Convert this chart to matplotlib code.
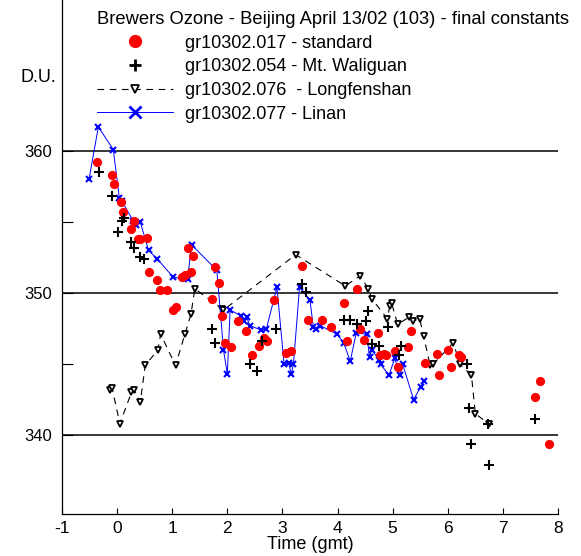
import numpy as np
import matplotlib
matplotlib.use('Agg')
import matplotlib.pyplot as plt

plt.rcParams['font.family'] = ['Liberation Sans', 'DejaVu Sans']
plt.rcParams['font.size'] = 13
plt.rcParams['axes.unicode_minus'] = False

# gr10302.017 - standard
std_t = [-0.37, -0.10, -0.05, 0.07, 0.11, 0.25, 0.31, 0.37, 0.42, 0.54, 0.58, 0.72, 0.77, 0.90,
         1.02, 1.07, 1.18, 1.23, 1.29, 1.34, 1.38, 1.73, 1.78, 1.85, 1.90, 1.95, 2.07, 2.20,
         2.33, 2.45, 2.58, 2.67, 2.72, 2.84, 3.06, 3.16, 3.36, 3.46, 3.71, 3.88, 4.11, 4.17,
         4.36, 4.41, 4.48, 4.73, 4.77, 4.84, 4.88, 5.04, 5.10, 5.27, 5.33, 5.58, 5.80, 5.84,
         6.01, 6.06, 6.21, 6.24, 7.58, 7.67, 7.83]
std_o3 = [359.2, 358.3, 357.7, 356.4, 355.7, 354.5, 355.1, 353.8, 353.8, 353.9, 351.5, 350.9, 350.2, 350.2,
          348.8, 349.0, 351.1, 351.3, 353.2, 351.5, 352.6, 349.6, 351.8, 350.7, 348.4, 346.5, 346.2, 348.0,
          347.3, 345.6, 346.3, 346.8, 346.6, 349.5, 345.8, 345.9, 351.9, 348.1, 348.1, 347.6, 349.3, 346.6,
          350.3, 347.5, 346.7, 347.2, 345.6, 345.7, 345.6, 345.9, 344.8, 346.2, 347.3, 345.1, 345.7, 344.2,
          346.0, 344.8, 345.6, 345.5, 342.7, 343.8, 339.4]

# gr10302.054 - Mt. Waliguan
wal_t = [-0.33, -0.09, 0.02, 0.08, 0.13, 0.26, 0.31, 0.42, 0.48, 1.73, 1.78, 2.41, 2.54, 2.62,
         2.88, 3.35, 3.42, 4.11, 4.22, 4.36, 4.52, 4.56, 4.63, 4.76, 4.91, 5.12, 5.16, 6.34,
         6.39, 6.43, 6.73, 6.75, 7.58]
wal_o3 = [358.5, 356.8, 354.3, 355.1, 355.3, 353.6, 353.2, 352.5, 352.4, 347.5, 346.5, 345.0, 344.5, 346.6,
          347.5, 350.6, 350.1, 348.1, 348.1, 347.8, 348.0, 348.7, 346.4, 346.3, 347.6, 345.6, 346.3, 345.0,
          341.9, 339.4, 340.8, 337.9, 341.1]

# gr10302.076 - Longfenshan
lon_t = [-0.13, -0.09, 0.05, 0.26, 0.31, 0.42, 0.51, 0.74, 0.79, 1.06, 1.23, 1.34, 1.41, 1.90,
         1.93, 3.24, 4.14, 4.41, 4.56, 4.62, 4.90, 4.95, 4.98, 5.09, 5.30, 5.36, 5.49, 5.56,
         5.68, 5.74, 6.10, 6.22, 6.43, 6.50, 6.74]
lon_o3 = [343.2, 343.3, 340.8, 343.0, 343.2, 342.3, 344.9, 346.0, 347.1, 344.9, 347.1, 348.5, 350.3, 348.9,
          348.8, 352.7, 350.5, 351.2, 350.3, 349.6, 348.2, 349.1, 349.3, 347.8, 348.3, 348.0, 348.2, 347.0,
          344.9, 345.0, 346.5, 345.0, 344.2, 341.5, 340.8]

# gr10302.077 - Linan
lin_t = [-0.51, -0.34, -0.07, 0.04, 0.08, 0.29, 0.34, 0.42, 0.57, 0.73, 1.02, 1.28, 1.35, 1.81,
         1.93, 2.00, 2.05, 2.25, 2.30, 2.35, 2.41, 2.61, 2.71, 2.90, 3.03, 3.11, 3.16, 3.20,
         3.31, 3.50, 3.56, 3.61, 3.69, 3.99, 4.11, 4.23, 4.34, 4.53, 4.58, 4.62, 4.75, 4.78,
         4.93, 5.04, 5.13, 5.18, 5.38, 5.51, 5.57]
lin_o3 = [358.0, 361.7, 360.1, 356.7, 356.5, 355.1, 354.8, 355.0, 353.0, 352.4, 351.1, 351.0, 353.4, 351.6,
          346.0, 344.3, 348.8, 348.4, 348.0, 348.3, 347.7, 347.4, 347.5, 350.4, 345.0, 345.1, 344.3, 345.0,
          350.4, 349.5, 347.6, 347.5, 347.7, 347.1, 346.5, 345.2, 347.2, 347.1, 345.5, 346.0, 345.3, 345.0,
          344.2, 345.4, 344.2, 345.0, 342.5, 343.4, 343.8]

title = 'Brewers Ozone - Beijing April 13/02 (103) - final constants'
labels = ['gr10302.017 - standard', 'gr10302.054 - Mt. Waliguan',
          'gr10302.076  - Longfenshan', 'gr10302.077 - Linan']

fig = plt.figure(figsize=(5.81, 5.56), dpi=100)
ax = fig.add_axes((62/581, 42/556, 496/581, 514/556))

for yg in [340, 350, 360]:
    ax.axhline(yg, color='black', lw=1.1, zorder=1)

h1, = ax.plot(std_t, std_o3, ls='none', marker='o', ms=5.6, color='red', mec='red', zorder=3)
h2, = ax.plot(wal_t, wal_o3, ls='none', marker='+', ms=6.5, mew=1.5, color='black', zorder=3)
h3, = ax.plot(lon_t, lon_o3, ls=(0, (6, 5)), lw=0.8, marker='v', ms=5, mfc='white', mec='black',
              mew=1.3, color='black', zorder=2)
h4, = ax.plot(lin_t, lin_o3, ls='-', lw=0.7, marker='x', ms=4.5, mew=1.5, color='blue', zorder=2)

ax.set_xlim(-1, 8)
ax.set_ylim(334.44, 370.63)
ax.set_xticks(range(-1, 9))
ax.set_yticks([340, 345, 350, 355, 360])
ax.set_yticklabels(['340', '', '350', '', '360'])
ax.tick_params(axis='x', direction='in', length=4, width=0.8, pad=5, labelsize=12.5)
ax.tick_params(axis='y', direction='in', length=8, width=0.8, pad=7, labelsize=12)
ax.spines['top'].set_visible(False)
ax.spines['right'].set_visible(False)
ax.spines['left'].set_linewidth(0.9)
ax.spines['bottom'].set_linewidth(0.9)
ax.set_xlabel('Time (gmt)', labelpad=0)

fig.text(38/581, 1 - 78/556, 'D.U.', ha='center', va='center')

leg = ax.legend([h1, h2, h3, h4], labels, title=title, loc='upper left',
                bbox_to_anchor=(97/581, 1 - 11/556), bbox_transform=fig.transFigure,
                frameon=False, borderpad=0, borderaxespad=0, handlelength=4.2,
                handletextpad=0.65, labelspacing=0.37, alignment='left',
                title_fontsize=13.2)
sizes = [8.5, 9, 6, 8]
for hh, s in zip(leg.legend_handles, sizes):
    hh.set_markersize(s)
leg.legend_handles[1].set_markeredgewidth(2)
leg.legend_handles[3].set_markeredgewidth(2)

fig.savefig('out.png', dpi=100)
